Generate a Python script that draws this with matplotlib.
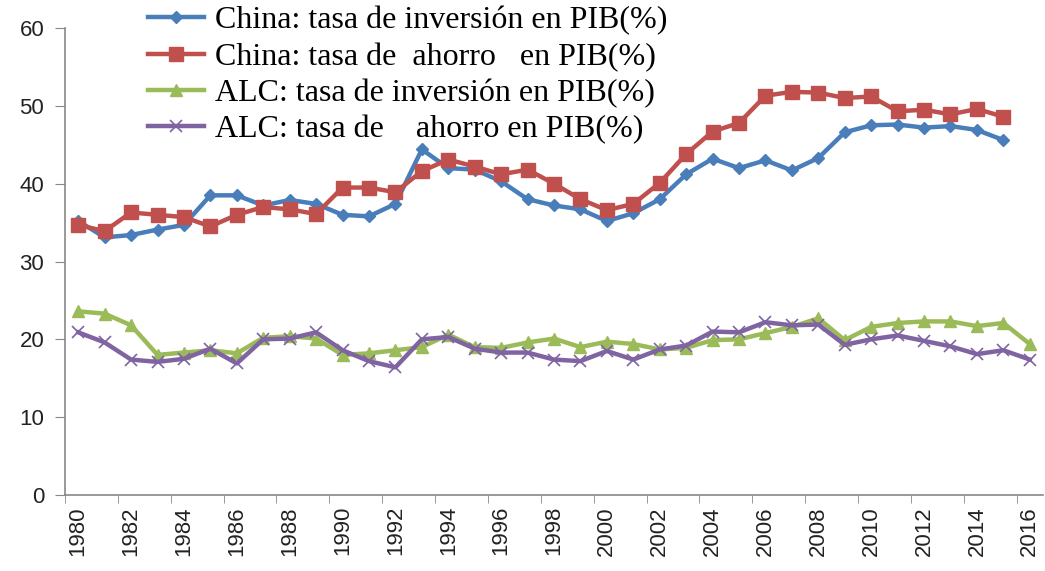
import numpy as np
import matplotlib.pyplot as plt

years = list(range(1980, 2017))

china_inv = [35.2, 33.1, 33.4, 34.1, 34.7, 38.5, 38.5, 37.2, 37.9, 37.4,
             36.0, 35.8, 37.4, 44.4, 42.0, 41.8, 40.3, 38.0, 37.2, 36.7,
             35.2, 36.2, 38.0, 41.2, 43.2, 42.0, 43.0, 41.7, 43.3, 46.6,
             47.5, 47.6, 47.2, 47.4, 46.9, 45.6]
china_sav = [34.7, 33.9, 36.3, 36.0, 35.7, 34.5, 36.0, 37.0, 36.7, 36.1,
             39.5, 39.5, 38.9, 41.6, 43.1, 42.2, 41.2, 41.8, 40.0, 38.0,
             36.6, 37.4, 40.1, 43.8, 46.7, 47.8, 51.3, 51.8, 51.7, 51.0,
             51.2, 49.3, 49.5, 48.9, 49.6, 48.6]
alc_inv = [23.6, 23.3, 21.8, 18.0, 18.3, 18.6, 18.2, 20.2, 20.4, 20.1,
           18.0, 18.2, 18.6, 19.0, 20.6, 19.0, 18.9, 19.6, 20.1, 19.0,
           19.7, 19.4, 18.7, 18.9, 19.9, 20.0, 20.8, 21.6, 22.7, 19.9,
           21.6, 22.1, 22.3, 22.3, 21.7, 22.1, 19.4]
alc_sav = [20.9, 19.6, 17.4, 17.1, 17.5, 18.8, 16.9, 20.0, 20.1, 20.9,
           18.6, 17.2, 16.4, 20.0, 20.3, 18.8, 18.3, 18.3, 17.4, 17.2,
           18.5, 17.4, 18.7, 19.2, 21.0, 20.9, 22.2, 21.8, 21.9, 19.3,
           20.0, 20.5, 19.8, 19.1, 18.1, 18.6, 17.4]

labels = ["China: tasa de inversión en PIB(%)",
          "China: tasa de  ahorro   en PIB(%)",
          "ALC: tasa de inversión en PIB(%)",
          "ALC: tasa de    ahorro en PIB(%)"]

fig = plt.figure(figsize=(10.45, 5.71), dpi=100)
ax = fig.add_axes([65/1045, 1-495/571, (1043-65)/1045, (495-28)/571])

x = np.arange(len(years))
ax.plot(x[:len(china_inv)], china_inv, color='#4A7EBB', lw=3.2, marker='D', ms=6, label=labels[0])
ax.plot(x[:len(china_sav)], china_sav, color='#C0504D', lw=3.2, marker='s', ms=10, label=labels[1])
ax.plot(x, alc_inv, color='#9BBB59', lw=3.2, marker='^', ms=9, label=labels[2])
ax.plot(x, alc_sav, color='#8064A2', lw=3.2, marker='x', ms=9, mew=1.2, label=labels[3])

ax.set_xlim(-0.5, len(years)-0.5)
ax.set_ylim(0, 60)
ax.set_yticks(range(0, 61, 10))
ax.set_xticks(x[::2])
ax.set_xticklabels([str(y) for y in years[::2]], rotation=90)
ax.set_xticks(np.arange(-0.5, len(years), 2), minor=True)
ax.tick_params(axis='x', which='major', length=0, pad=8)
ax.tick_params(axis='x', which='minor', length=6, color='#888888')
ax.tick_params(axis='y', length=7, color='#888888', pad=8)
for t in ax.get_xticklabels() + ax.get_yticklabels():
    t.set_fontfamily('Liberation Sans')
    t.set_fontsize(16)
    t.set_color('#222222')

for s in ['top', 'right']:
    ax.spines[s].set_visible(False)
ax.spines['left'].set_color('#888888')
ax.spines['bottom'].set_color('#888888')
ax.spines['left'].set_linewidth(1.2)
ax.spines['bottom'].set_linewidth(1.2)

fig.legend(loc='upper left', bbox_to_anchor=(148/1045, 1-6/571), frameon=False,
           prop={'family': 'Liberation Serif', 'size': 23}, handlelength=1.75,
           handletextpad=0.35, labelspacing=0.22, borderpad=0, borderaxespad=0)

fig.savefig('out.png', dpi=100)
